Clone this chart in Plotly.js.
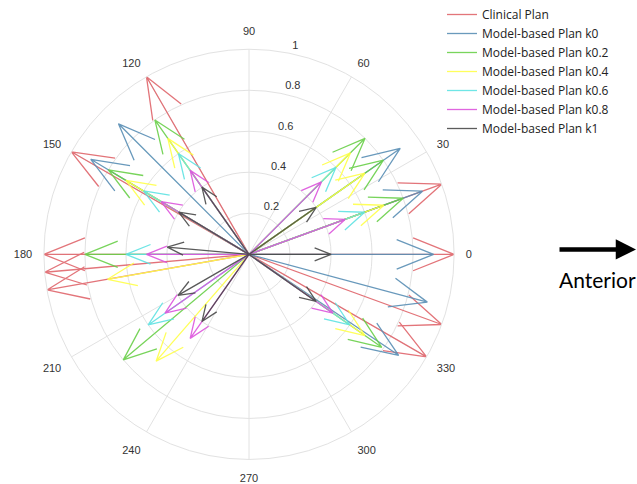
<!DOCTYPE html>
<html>
<head>
<meta charset="utf-8">
<script src="https://cdn.plot.ly/plotly-3.0.1.min.js"></script>
<style>
  html, body { margin: 0; padding: 0; background: #fff; }
  #plot { width: 637px; height: 484px; }
</style>
</head>
<body>
<div id="plot"></div>
<script>
// Beam directions (degrees) and arrow lengths
let clinicalAngles = [0, 20, 120, 150, 180, 185, 190, 330, 340];
let clinicalR = [1, 1, 1, 1, 1, 1, 1, 1, 1];

let k0Angles = [0, 20, 35, 135, 149, 326, 345];
let k0R = [0.9, 0.9, 0.9, 0.9, 0.9, 0.88, 0.9];

let k02Angles = [20, 35, 45, 125, 149, 180, 220, 325];
let k02R = [0.8, 0.8, 0.8, 0.8, 0.8, 0.8, 0.8, 0.79];

let k04Angles = [20, 35, 45, 125, 149, 190, 229, 325];
let k04R = [0.7, 0.69, 0.7, 0.69, 0.7, 0.7, 0.69, 0.69];

let k06Angles = [20, 45, 125, 149, 180, 215, 325];
let k06R = [0.6, 0.6, 0.6, 0.6, 0.6, 0.6, 0.6];

let k08Angles = [20, 45, 125, 149, 180, 215, 235, 325];
let k08R = [0.5, 0.5, 0.5, 0.5, 0.5, 0.5, 0.5, 0.5];

let k1Angles = [0, 35, 125, 149, 175, 210, 235, 325];
let k1R = [0.4, 0.4, 0.4, 0.4, 0.4, 0.4, 0.4, 0.4];

let planNames = ['Clinical Plan', 'Model-based Plan k0', 'Model-based Plan k0.2',
  'Model-based Plan k0.4', 'Model-based Plan k0.6', 'Model-based Plan k0.8', 'Model-based Plan k1'];
let planColors = ['#e0666c', '#5a8fb5', '#6ad04a', '#ffff4a', '#5fe3e3', '#dd55dd', '#4a4a4a'];

let angleTicks = [0, 30, 60, 90, 120, 150, 180, 210, 240, 270, 300, 330];
let radialTicks = [0.2, 0.4, 0.6, 0.8, 1];

// compass-style arrow: shaft from origin plus a head going back 20% with 8% spread
function arrows(thetas, rs) {
  let r = [], t = [];
  let headR = Math.sqrt(0.8 * 0.8 + 0.08 * 0.08);
  let headA = Math.atan2(0.08, 0.8) * 180 / Math.PI;
  thetas.forEach(function (th, i) {
    let len = rs[i];
    r.push(0, len, len * headR, len, len * headR, null);
    t.push(th, th, th + headA, th, th - headA, null);
  });
  return {r: r, theta: t};
}

let allAngles = [clinicalAngles, k0Angles, k02Angles, k04Angles, k06Angles, k08Angles, k1Angles];
let allR = [clinicalR, k0R, k02R, k04R, k06R, k08R, k1R];

let data = allAngles.map(function (ang, i) {
  let a = arrows(ang, allR[i]);
  return {
    type: 'scatterpolar',
    mode: 'lines',
    r: a.r,
    theta: a.theta,
    name: planNames[i],
    line: {color: planColors[i], width: 1.3},
    opacity: 0.9,
    connectgaps: false,
    hoverinfo: 'skip'
  };
});

// empty trace so the overlay subplot carrying the radial labels gets drawn
data.push({type: 'scatterpolar', r: [], theta: [], subplot: 'polar2', showlegend: false});

let W = 637, H = 484;
let cx = 249, cy = 250, rad = 209;
let polarDomain = {x: [(cx - rad) / W, (cx + rad) / W], y: [1 - (cy + rad) / H, 1 - (cy - rad) / H]};
// overlay is 10% bigger so that its range can run to 1.1 with the same scale
let rad2 = rad * 1.1;
let labelDomain = {x: [(cx - rad2) / W, (cx + rad2) / W], y: [1 - (cy + rad2) / H, 1 - (cy - rad2) / H]};

let layout = {
  width: W,
  height: H,
  margin: {l: 0, r: 0, t: 0, b: 0},
  paper_bgcolor: '#fff',
  font: {family: 'Liberation Sans, Arial, sans-serif', size: 11, color: '#333'},
  showlegend: true,
  legend: {
    x: 442 / W, y: 1.02, xanchor: 'left', yanchor: 'top',
    font: {family: 'Open Sans, sans-serif', size: 12, color: '#222'},
    bgcolor: 'rgba(0,0,0,0)',
    tracegroupgap: 0
  },
  polar: {
    domain: polarDomain,
    bgcolor: '#fff',
    radialaxis: {
      range: [0, 1],
      angle: 80,
      tickvals: radialTicks,
      showticklabels: false,
      showline: false,
      ticks: '',
      gridcolor: '#e2e2e2'
    },
    angularaxis: {
      direction: 'counterclockwise',
      rotation: 0,
      tickvals: angleTicks,
      ticktext: angleTicks.map(String),
      ticks: 'outside',
      ticklen: 9,
      tickcolor: 'rgba(0,0,0,0)',
      showline: true,
      linecolor: '#e2e2e2',
      gridcolor: '#e2e2e2',
      tickfont: {size: 11, color: '#333'}
    }
  },
  // radial labels sit a little above each ring, as in the original
  polar2: {
    domain: labelDomain,
    bgcolor: 'rgba(0,0,0,0)',
    radialaxis: {
      range: [0, 1.1],
      angle: 80,
      tickangle: 80,
      tickvals: radialTicks.map(v => v + 0.05),
      ticktext: radialTicks.map(String),
      showgrid: false,
      showline: false,
      ticks: '',
      tickfont: {size: 11, color: '#333'}
    },
    angularaxis: {visible: false, showgrid: false}
  },
  annotations: [
    {
      xref: 'paper', yref: 'paper',
      x: 636 / W, y: 1 - 245 / H,
      ax: -78, ay: 0,
      text: '',
      showarrow: true,
      arrowhead: 2, arrowsize: 0.9, arrowwidth: 4.5, arrowcolor: '#000'
    },
    {
      xref: 'paper', yref: 'paper',
      x: 597 / W, y: 1 - 276 / H,
      xanchor: 'center', yanchor: 'middle',
      text: 'Anterior',
      showarrow: false,
      font: {family: 'Lato, sans-serif', size: 21, color: '#000'}
    }
  ]
};

Plotly.newPlot('plot', data, layout, {displayModeBar: false, staticPlot: true});
</script>
</body>
</html>
